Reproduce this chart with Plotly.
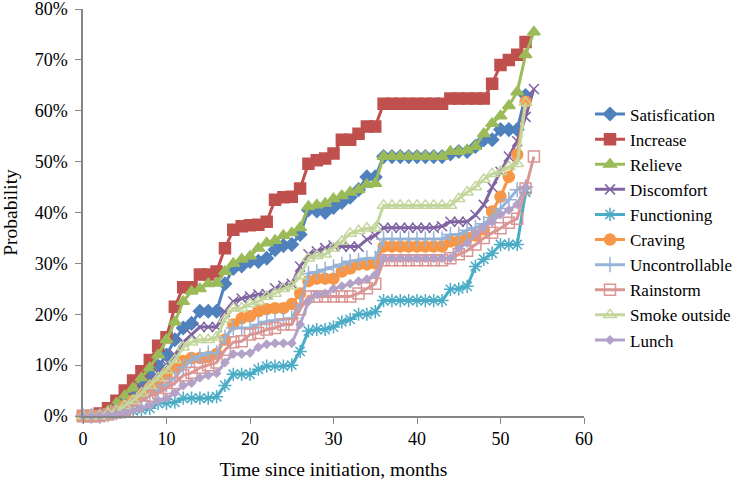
import plotly.graph_objs as go

# months since initiation (shared x values)
months = list(range(0, 55))

# cumulative probability (%) for each item
satisfication = [0, 0, 0, 0.5, 1.5, 3, 4.5, 6, 8, 9.8, 12, 15, 17.3, 18.2, 20.6, 20.6, 20.6, 26, 29, 29.5,
                 30.4, 30.4, 31, 32.7, 33.5, 33.7, 35.7, 40.5, 40.3, 40, 41, 42, 43, 44.5, 47, 47, 51, 51, 51, 51,
                 51, 51, 51, 51, 51.5, 52, 52, 53, 54.3, 54.3, 56.3, 56.3, 56.3, 63]
increase = [0, 0, 0.5, 1.5, 3, 5, 7, 8.8, 11, 13.8, 15.5, 21.5, 25.3, 25.3, 27.8, 27.8, 28.4, 33, 36.6, 37.3,
            37.5, 37.6, 38.2, 42.5, 43, 43.1, 44.7, 49.6, 50.3, 50.6, 51.6, 54.3, 54.3, 55.5, 56.9, 56.9, 61.4,
            61.4, 61.4, 61.4, 61.4, 61.4, 61.4, 61.4, 62.4, 62.4, 62.4, 62.4, 62.4, 65.3, 69, 70, 71, 73.5]
relieve = [0, 0, 0.3, 1, 2.5, 4, 5.5, 7.5, 9.5, 12, 15, 18.5, 22.5, 24.5, 25, 26, 26.1, 28.4, 30, 30.8,
           31.4, 33, 34, 34.5, 35.5, 36, 37, 41.2, 41.5, 41.8, 42.7, 43.3, 44, 44.5, 45.5, 45.7, 51, 51, 51, 51,
           51, 51, 51, 51, 52, 52, 52.3, 53, 55.5, 57.5, 59, 61, 63.7, 71, 75.5]
discomfort = [0, 0, 0, 0.5, 1.5, 2.5, 3.5, 5.5, 7, 8.5, 10, 12, 14.5, 16, 17.5, 17.5, 17.5, 20.5, 22.5, 23.1,
              23.5, 23.9, 24, 25.1, 25.6, 26, 29.4, 31.8, 32.4, 33, 33.5, 33.3, 33.3, 33.3, 34.7, 35.5, 37, 37,
              37, 37, 37, 37, 37, 37.3, 38.2, 38.2, 38.2, 39.5, 41.5, 45, 48, 51, 54, 58.8, 64.3]
functioning = [0, 0, 0, 0.3, 0.5, 0.8, 1, 1.2, 1.5, 2.5, 2.5, 2.7, 3.5, 3.5, 3.5, 3.5, 3.8, 6, 8.2, 8.2,
               8.2, 9.2, 9.8, 9.8, 9.8, 10, 12.7, 16.7, 17, 17, 17.5, 18.5, 19, 20, 20, 20.5, 22.7, 22.7, 22.7,
               22.7, 22.7, 22.7, 22.7, 22.7, 24.9, 25, 25.5, 29.4, 30.8, 32, 33.7, 33.7, 33.7, 44]
craving = [0, 0, 0, 0.5, 1, 2, 3, 4, 5.5, 6.5, 8.2, 9.5, 10.8, 11.4, 11.4, 11.6, 12.2, 15, 18, 19.2,
           19.6, 20.6, 21, 21.2, 21.2, 22, 24.1, 26.5, 27, 27, 27, 28.4, 29, 29.8, 29.8, 30, 33.3, 33.3, 33.3,
           33.3, 33.3, 33.3, 33.3, 33.3, 34.3, 34.3, 35, 35.5, 36.7, 40.2, 43.1, 47, 51.4, 61.8]
uncontrollable = [0, 0, 0, 0.3, 0.7, 1.2, 2, 3, 4, 5, 6.2, 7.5, 9.5, 11, 11.8, 12.4, 12.4, 15.5, 17.3, 17.3,
                  17.3, 18, 18.6, 18.8, 19, 19.2, 22, 28, 28.3, 28.8, 29.3, 29.8, 30.4, 30.6, 31, 31, 34.8, 34.8,
                  34.8, 34.8, 34.8, 34.8, 34.8, 34.8, 35.7, 35.7, 36.5, 37, 37.8, 39, 40.8, 42.5, 44.5, 45]
rainstorm = [0, 0, 0, 0.3, 0.7, 1.2, 2, 3, 4, 4.5, 5.5, 6.5, 8, 8.5, 9.5, 10, 10.5, 13, 14.5, 14.7,
             16, 16.3, 17, 17.3, 18, 18, 21, 23.5, 23.5, 23.5, 23.5, 23.5, 23.5, 24.1, 25.1, 26, 30.6, 30.6,
             30.6, 30.6, 30.6, 30.6, 30.6, 30.6, 31, 31.8, 32.5, 33.7, 35, 36, 36.9, 38, 38.8, 44.7, 51]
smoke_outside = [0, 0, 0, 0.5, 1, 2, 3, 4.5, 6, 7.5, 9, 11, 13.5, 14.5, 15, 15, 15.5, 19, 21.2, 21.2,
                 22, 22.5, 23.5, 24.1, 25, 25.5, 27.5, 31, 31.5, 31.8, 33, 34.3, 35.9, 36.4, 36.9, 36.9, 41.4,
                 41.4, 41.4, 41.4, 41.4, 41.4, 41.4, 41.4, 41.4, 42.7, 44, 45, 46.5, 47.6, 48, 49, 49.6, 61.6]
lunch = [0, 0, 0, 0.2, 0.4, 0.7, 1, 1.5, 2, 3, 3.5, 4.5, 6, 6.5, 7.5, 8, 8.4, 10.5, 12.2, 12.2,
         12.4, 13.5, 14.1, 14.3, 14.3, 14.3, 18, 22.5, 23.9, 24.1, 25, 25.5, 26, 26.5, 26.9, 27.8, 31, 31,
         31, 31, 31, 31, 31, 31, 31, 33, 34, 35.9, 37, 38.2, 39.6, 40.5, 41.6, 45]

names = ['Satisfication', 'Increase', 'Relieve', 'Discomfort', 'Functioning',
         'Craving', 'Uncontrollable', 'Rainstorm', 'Smoke outside', 'Lunch']
values = [satisfication, increase, relieve, discomfort, functioning,
          craving, uncontrollable, rainstorm, smoke_outside, lunch]
colors = ['#4F81BD', '#C0504D', '#9BBB59', '#8064A2', '#4BACC6',
          '#F79646', '#95B3D7', '#D99694', '#C3D69B', '#B3A2C7']
symbols = ['diamond', 'square', 'triangle-up', 'x-thin-open', 'asterisk-open',
           'circle', 'cross-thin-open', 'square-open', 'triangle-up-open', 'diamond']
sizes = [10, 11, 11, 10, 11, 11, 11, 11, 11, 6]

serif = dict(family='Liberation Serif', size=18, color='black')
title_font = dict(family='Liberation Serif', size=19.5, color='black')

data = []
for name, vals, col, sym, sz in zip(names, values, colors, symbols, sizes):
    trace = go.Scatter(x=months[:len(vals)],
                       y=[v / 100 for v in vals],
                       mode='lines+markers',
                       name=name,
                       cliponaxis=False,
                       line=dict(color=col, width=3),
                       marker=dict(symbol=sym, size=sz, color=col,
                                   line=dict(color=col, width=1.5)))
    data.append(trace)

layout = go.Layout(
    width=747, height=481,
    margin=dict(l=83, r=163, t=9, b=65),
    paper_bgcolor='white', plot_bgcolor='white',
    font=serif,
    xaxis=dict(range=[0, 60], dtick=10, showgrid=False, zeroline=False,
               showline=True, linecolor='#868686', linewidth=1.5,
               ticks='outside', ticklen=6, tickcolor='#868686',
               tickfont=serif, automargin=False,
               title=dict(text='Time since initiation, months', standoff=14, font=title_font)),
    yaxis=dict(range=[0, 0.8001], tickvals=[0, 0.1, 0.2, 0.3, 0.4, 0.5, 0.6, 0.7, 0.8],
               tickformat='.0%', showgrid=False, zeroline=False,
               showline=True, linecolor='#868686', linewidth=1.5,
               ticks='outside', ticklen=6, tickcolor='#868686',
               ticklabelstandoff=4, ticklabeloverflow='allow',
               tickfont=serif, automargin=False,
               title=dict(text='Probability', standoff=27, font=title_font)),
    legend=dict(x=1.012, y=0.785, xanchor='left', yanchor='top',
                font=dict(family='Liberation Serif', size=17, color='black'),
                tracegroupgap=0, bgcolor='rgba(0,0,0,0)'),
    showlegend=True
)

fig = go.Figure(data=data, layout=layout)
# drop the default 8px body margin so the figure fills the window
fig.write_html('out.html', config={'displayModeBar': False},
               post_script="document.body.style.margin='0px';")
